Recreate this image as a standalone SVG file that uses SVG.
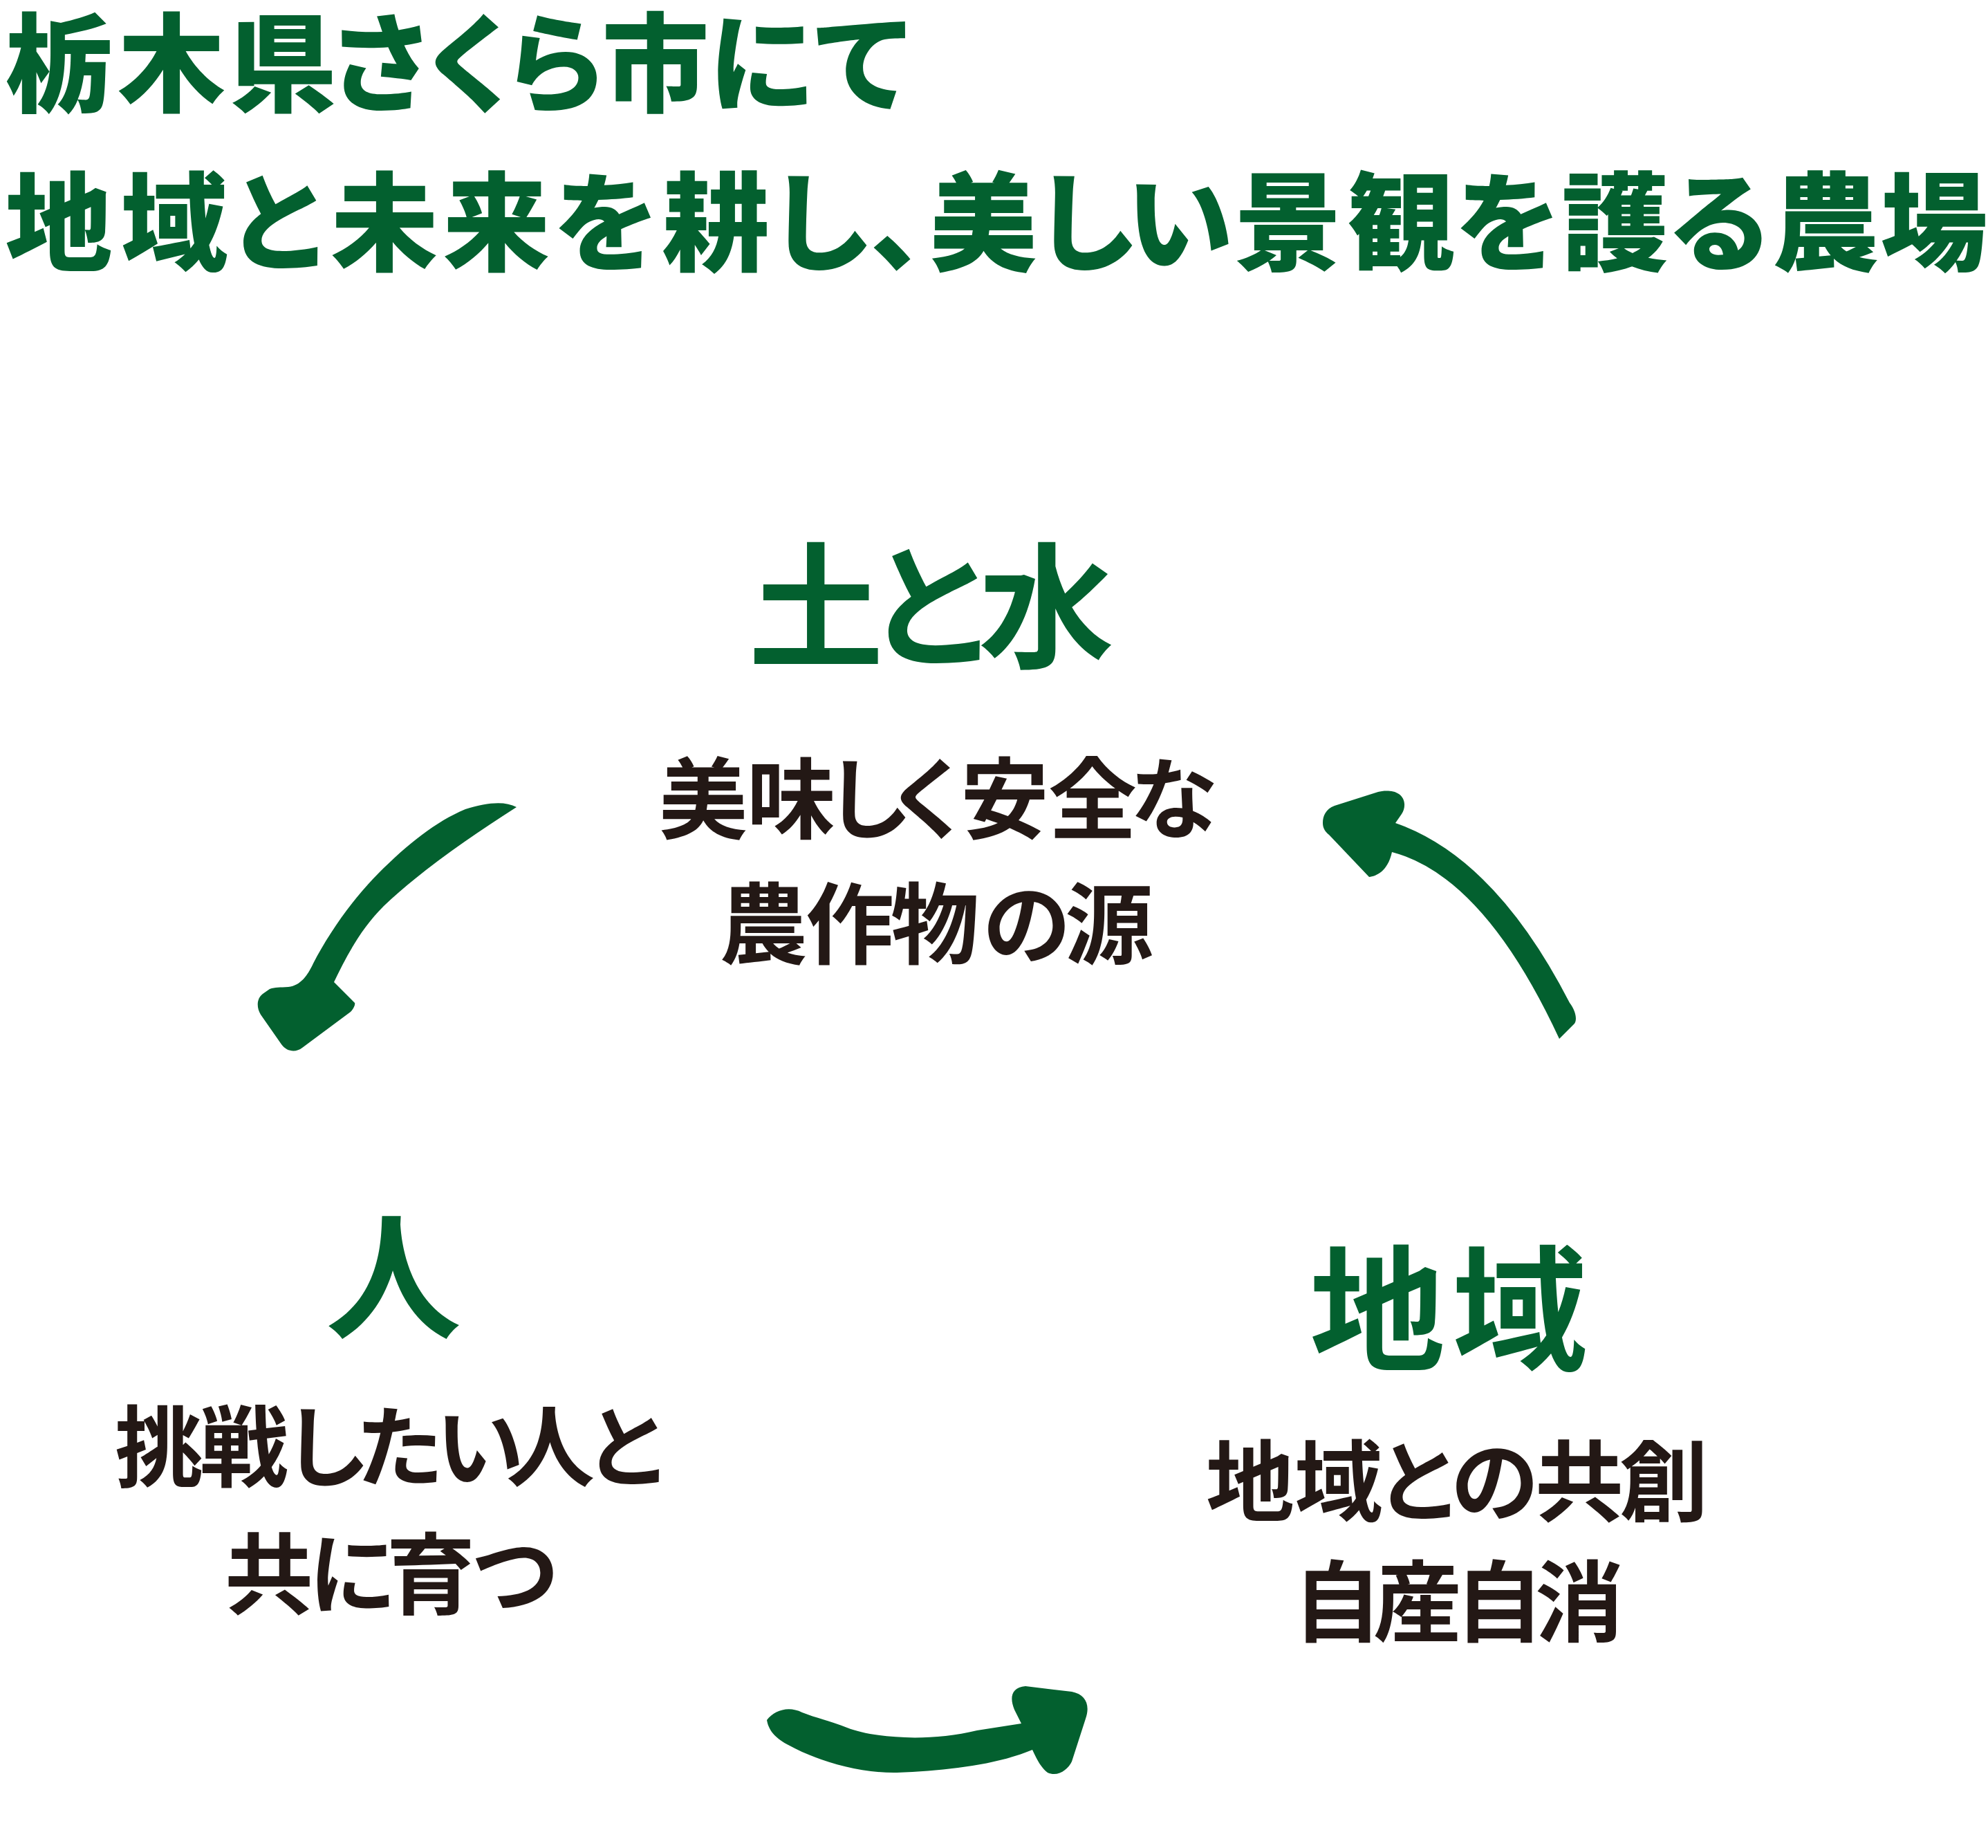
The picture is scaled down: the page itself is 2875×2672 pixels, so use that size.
<svg xmlns="http://www.w3.org/2000/svg" width="2875" height="2672" viewBox="0 0 2875 2672">
<style>
.t{font-family:"Noto Sans CJK JP","Noto Sans CJK SC",sans-serif;text-anchor:middle}
.title{font-size:155px;font-weight:900;fill:#03602f}
.head{font-size:196px;font-weight:700;fill:#03602f}
.body{font-size:128px;font-weight:700;fill:#231815}
.arrow{fill:#03602f}
</style>
<rect width="2875" height="2672" fill="#ffffff"/>
<g id="title">
<text class="t title" x="85 248 409 551 682 803 948 1102 1249" y="149">栃木県さくら市にて</text>
<text class="t title" x="85 252 404 556 718 877 1035 1187 1336 1422 1571 1706 1863 2026 2181 2336 2487 2640 2797" y="379">地域と未来を耕し、美しい景観を護る農場</text>
</g>
<g id="node-soil-water">
<text class="t head" x="1180 1348 1513" y="950">土と水</text>
<text class="t body" x="1017 1144 1256 1344 1453 1580 1698" y="1203">美味しく安全な</text>
<text class="t body" x="1104 1229 1352 1485 1604" y="1384">農作物の源</text>
</g>
<g id="node-people">
<text class="t head" x="569" y="1920">人</text>
<text class="t body" x="230 353 472 578 694 796 908" y="2140">挑戦したい人と</text>
<text class="t body" x="389 510 623 745" y="2324">共に育つ</text>
</g>
<g id="node-region">
<text class="t head" x="1992 2198" y="1966">地域</text>
<text class="t body" x="1808 1936 2052 2162 2284 2406" y="2190">地域との共創</text>
<text class="t body" x="1934 2050 2168 2284" y="2364">自産自消</text>
</g>
<g id="connectors">
<path class="arrow" d="M747,1167 C730,1158 705,1160 673,1170 C630,1188 590,1220 547,1263 C510,1300 475,1350 453,1393 C445,1410 435,1425 417,1427 C405,1428 398,1427 390,1430 L380,1437 C372,1443 370,1455 377,1467 L407,1510 C415,1521 428,1522 437,1515 L507,1463 C512,1458 514,1452 513,1450 L483,1420 C500,1385 520,1345 555,1310 C610,1258 680,1210 747,1167 Z"/>
<path class="arrow" d="M2255,1502 L2277,1480 C2281,1474 2279,1462 2270,1450 Q2162,1240 2018,1190 L2027,1177 C2033,1168 2033,1155 2023,1148 C2015,1142 2000,1143 1993,1145 L1930,1165 C1917,1170 1913,1180 1913,1190 C1913,1198 1917,1203 1922,1207 L1980,1268 C1990,1267 2007,1260 2013,1232 Q2146,1267 2255,1502 Z"/>
<path class="arrow" d="M1109,2487 C1120,2473 1140,2466 1160,2476 C1180,2484 1200,2488 1225,2498 C1260,2512 1340,2520 1413,2502 L1477,2492 L1467,2472 C1460,2455 1462,2440 1483,2438 L1550,2446 C1570,2450 1577,2465 1570,2485 L1550,2547 C1545,2558 1530,2570 1515,2563 C1505,2555 1500,2545 1493,2530 C1440,2552 1370,2560 1297,2563 C1240,2564 1180,2545 1140,2523 C1125,2515 1112,2505 1109,2487 Z"/>
</g>
</svg>
